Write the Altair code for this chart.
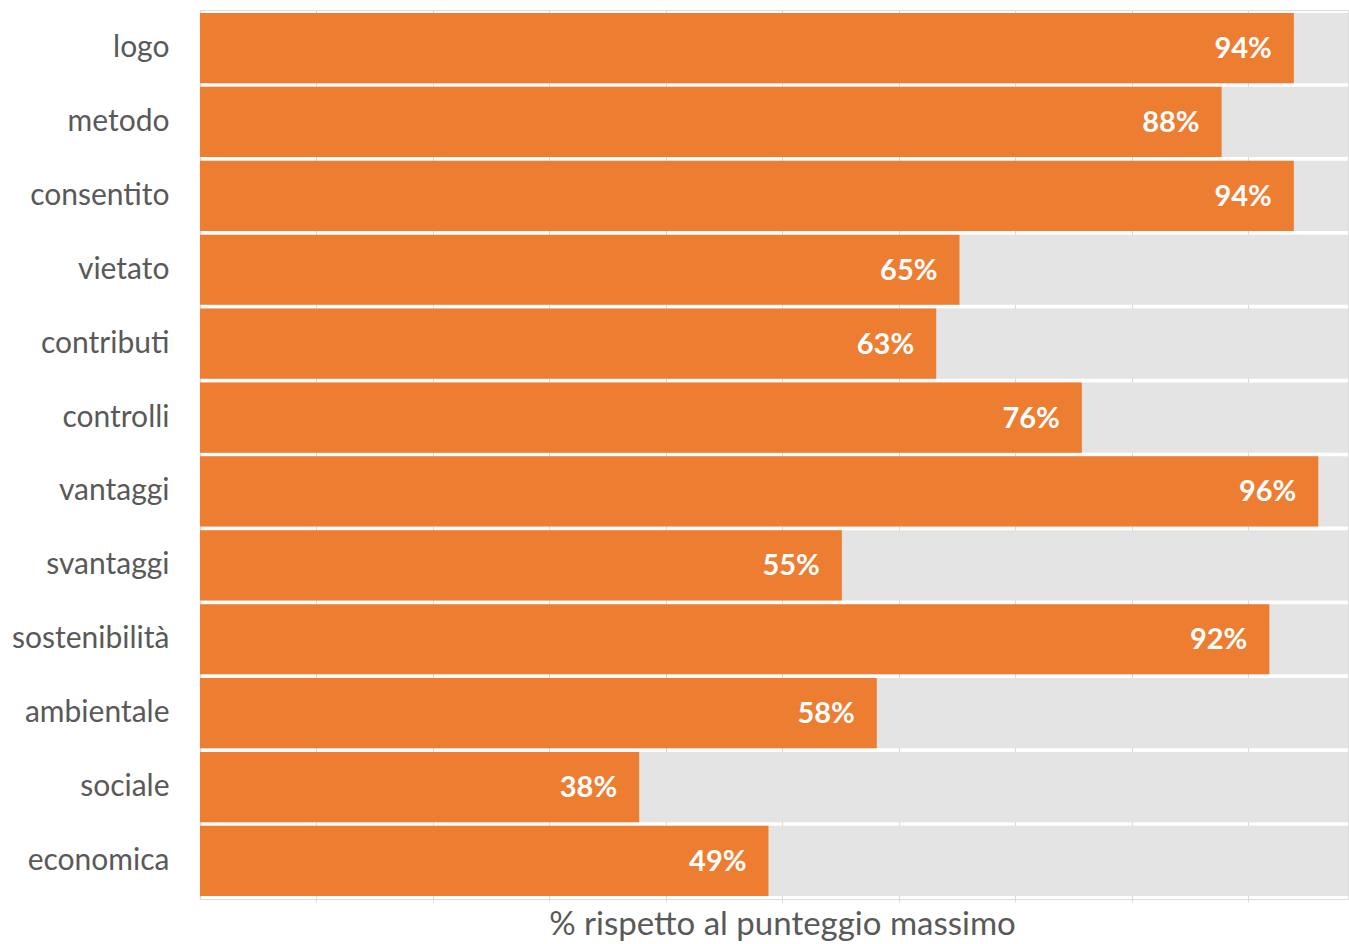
import altair as alt
import pandas as pd

categories = ["logo", "metodo", "consentito", "vietato", "contributi", "controlli",
              "vantaggi", "svantaggi", "sostenibilità", "ambientale", "sociale", "economica"]
values = [0.939, 0.877, 0.939, 0.652, 0.632, 0.757, 0.960, 0.551, 0.918, 0.581, 0.377, 0.488]
full = [1.0] * len(categories)

df = pd.DataFrame({"cat": categories, "val": values, "full": full})

FONT = "Lato"
GREY_TXT = "#595959"

x_scale = alt.Scale(domain=[0, 0.9855], nice=False, zero=True)
y_scale = alt.Scale(domain=categories, paddingInner=0.05, paddingOuter=0.04)

base = alt.Chart(df)

bg = base.mark_bar(color="#E4E4E4", clip=True).encode(
    x=alt.X("full:Q", scale=x_scale,
            axis=alt.Axis(values=[0.1, 0.2, 0.3, 0.4, 0.5, 0.6, 0.7, 0.8, 0.9],
                          grid=True, gridColor="#D9D9D9", gridWidth=1,
                          labels=False, ticks=True, tickSize=3, tickColor="#D9D9D9",
                          domain=False,
                          title="% rispetto al punteggio massimo",
                          titleFont=FONT, titleFontSize=33, titleFontWeight="normal",
                          titleColor=GREY_TXT, titleX=582, titleY=35,
                          titleAlign="center", titleBaseline="alphabetic")),
    y=alt.Y("cat:N", scale=y_scale, sort=categories,
            axis=alt.Axis(title=None, ticks=False, labelPadding=31,
                          labelFont=FONT, labelFontSize=30, labelColor=GREY_TXT,
                          domain=True, domainColor="#D9D9D9", domainWidth=1.5,
                          grid=False)),
)

bars = base.mark_bar(color="#ED7D31").encode(
    x=alt.X("val:Q", scale=x_scale),
    y=alt.Y("cat:N", scale=y_scale, sort=categories),
)

labels = base.mark_text(align="right", baseline="middle", dx=-22, dy=1,
                        color="white", font=FONT, fontSize=29, fontWeight="bold").encode(
    x=alt.X("val:Q", scale=x_scale),
    y=alt.Y("cat:N", scale=y_scale, sort=categories),
    text=alt.Text("val:Q", format=".0%"),
)

chart = alt.layer(bg, bars, labels).properties(
    width=1148, height=889,
    autosize=alt.AutoSizeParams(type="none"),
    padding={"left": 200, "top": 10, "right": 1, "bottom": 45},
).configure_view(stroke=None).configure(background="white")

chart.save("out.html", embed_options={"renderer": "svg", "actions": False})
